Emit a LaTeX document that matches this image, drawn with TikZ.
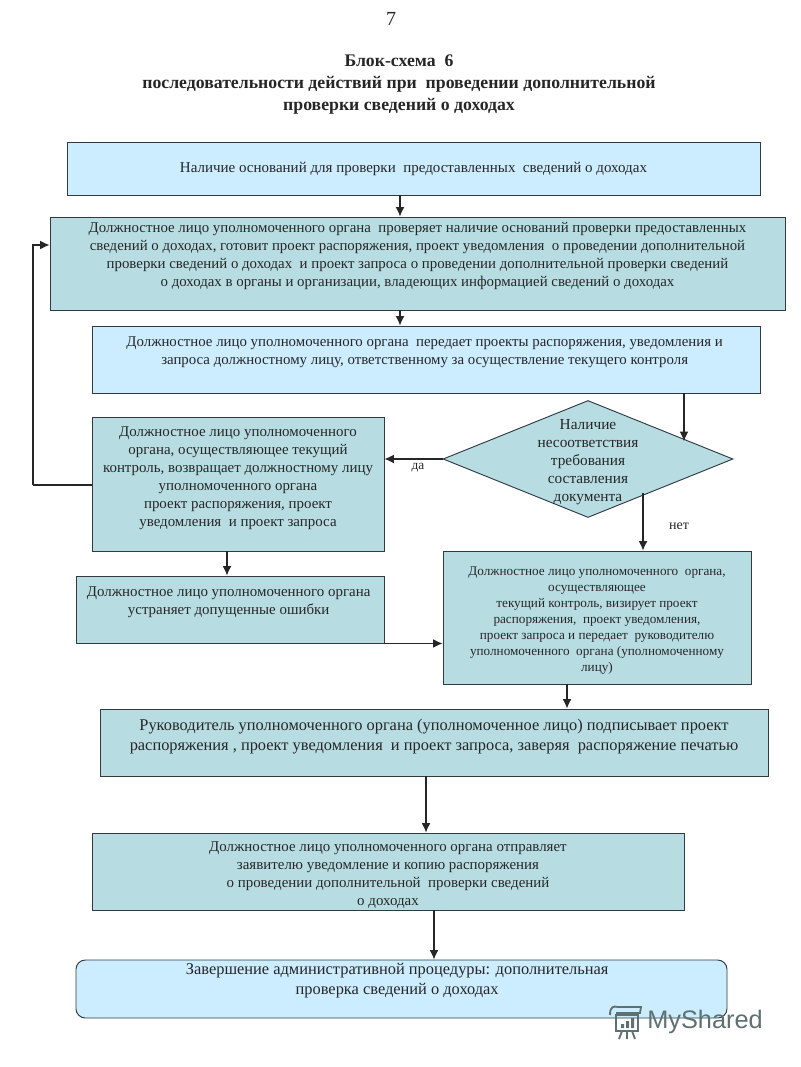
\documentclass[tikz,border=0pt]{standalone}
\usepackage{fontspec}
\setmainfont{Liberation Serif}
\setsansfont{Liberation Sans}
\usetikzlibrary{arrows.meta,shapes.geometric}
\definecolor{lightbox}{HTML}{CCECFF}
\definecolor{darkbox}{HTML}{B7DDE3}
\definecolor{edgegray}{HTML}{2F3B40}
\definecolor{markgray}{HTML}{5F7070}
\tikzset{
  sz/.style 2 args={minimum width=#1*0.75pt,minimum height=#2*0.75pt},
  txt/.style 2 args={align=center,inner sep=0pt,text=black!85,font=\fontsize{#1}{#2}\selectfont},
  lightnode/.style={draw=edgegray,fill=lightbox,line width=0.7pt},
  darknode/.style={draw=edgegray,fill=darkbox,line width=0.7pt},
  arrow/.style={draw=black!85,line width=0.8pt,-{Latex[length=7pt,width=6.5pt]}},
  plain/.style={draw=black!85,line width=0.8pt},
}
\begin{document}
\begin{tikzpicture}[x=0.75pt,y=-0.75pt]
\useasboundingbox (0,0) rectangle (800,1067);

\node[txt={15}{15}] (pagenum) at (391,19) {7};
\node[txt={13.3}{16.5}] (title) at (399,85) {\bfseries Блок-схема~ 6\\\bfseries последовательности действий при~ проведении дополнительной\\\bfseries проверки сведений о доходах};

\node[lightnode,sz={693}{53},txt={11.25}{13.5}] (found) at (413.5,168.5) {Наличие оснований для проверки~ предоставленных~ сведений о доходах};
\node[darknode,sz={735}{93},txt={11.15}{13.5}] (check) at (417.5,263.5) {Должностное лицо уполномоченного органа~ проверяет наличие оснований проверки предоставленных\\сведений о доходах, готовит проект распоряжения, проект уведомления~ о проведении дополнительной\\проверки сведений о доходах~ и проект запроса о проведении дополнительной проверки сведений\\о доходах в органы и организации, владеющих информацией сведений о доходах\\~};
\node[lightnode,sz={668}{67},txt={11.15}{13.5}] (pass) at (426,359.5) {\mbox{Должностное лицо уполномоченного органа~ передает проекты распоряжения, уведомления и\hspace{2pt}}\\\mbox{запроса должностному лицу, ответственному за осуществление текущего контроля\hspace{2pt}}\\~};
\node[darknode,shape=diamond,shape aspect=2.48,txt={11.5}{13.5},inner sep=-5.4pt,sz={290}{117}] (mismatch) at (588,459) {\rule{0pt}{12.2pt}Наличие\\несоответствия\\требования\\составления\\документа};
\node[darknode,sz={292}{134},txt={11.2}{13.5}] (back) at (238,484) {\rule{0pt}{9.8pt}Должностное лицо уполномоченного\\органа, осуществляющее текущий\\контроль, возвращает должностному лицу\\уполномоченного органа\\проект распоряжения, проект\\уведомления~ и проект запроса\\~};
\node[darknode,sz={308}{67},txt={11.2}{13.5}] (fix) at (230,609.5) {\mbox{Должностное лицо уполномоченного органа\hspace{2pt}}\\\mbox{устраняет допущенные ошибки\hspace{2pt}}\\~};
\node[darknode,sz={308}{133},txt={9.9}{12}] (visa) at (597,617.5) {\rule{0pt}{10.6pt}Должностное лицо уполномоченного~ органа,\\осуществляющее\\текущий контроль, визирует проект\\распоряжения,~ проект уведомления,\\проект запроса и передает~ руководителю\\уполномоченного~ органа (уполномоченному\\лицу)};
\node[darknode,sz={668}{67},txt={12.3}{15}] (sign) at (434,742.5) {\rule{0pt}{11.5pt}Руководитель уполномоченного органа (уполномоченное лицо) подписывает проект\\распоряжения , проект уведомления~ и проект запроса, заверяя~ распоряжение печатью\\~};
\node[darknode,sz={592}{77},txt={11.2}{13.5}] (send) at (388,871.5) {\rule{0pt}{13pt}Должностное лицо уполномоченного органа отправляет\\заявителю уведомление и копию распоряжения\\о проведении дополнительной~ проверки сведений\\о доходах};
\node[lightnode,rounded corners=7pt,sz={651}{58},txt={12.3}{15}] (finish) at (401.5,989) {\mbox{Завершение административной процедуры: дополнительная\hspace{6.5pt}}\\\mbox{проверка сведений о доходах\hspace{6.5pt}}\\~};

\node[txt={10}{12}] (yes) at (418,468) {да};
\node[txt={10.5}{12}] (no) at (679,526) {нет};

\coordinate (mne) at (684,441);
\coordinate (mse) at (643,493);
\coordinate (loop) at (33,485);

\path[arrow] (400,0 |- found.south) -- (400,0 |- check.north);
\path[arrow] (400,0 |- check.south) -- (400,0 |- pass.north);
\path[arrow] (mne |- pass.south) -- (mne);
\path[arrow] (mismatch.west) -- (mismatch.west -| back.east);
\path[plain] (back.west |- loop) -- (loop);
\path[arrow] (loop) -- (33,245) -- (33,245 -| check.west);
\path[arrow] (227,0 |- back.south) -- (227,0 |- fix.north);
\path[arrow] (fix.south east) -- (fix.south east -| visa.west);
\path[arrow] (mse) -- (mse |- visa.north);
\path[arrow] (567,0 |- visa.south) -- (567,0 |- sign.north);
\path[arrow] (426,0 |- sign.south) -- (426,0 |- send.north);
\path[arrow] (434,0 |- send.south) -- (434,0 |- finish.north);

\node[anchor=west,inner sep=0pt,text=markgray,font=\sffamily\fontsize{19}{19}\selectfont] (mark) at (647,1022) {MyShared};
\draw[markgray,line width=1.4pt] (616,1015) rectangle (638,1031);
\draw[markgray,line width=1.4pt] (610,1015) .. controls (610,1006) and (614,1006) .. (618,1007) -- (641,1007) -- (640,1013) -- (616,1013);
\draw[markgray,line width=1.4pt] (622,1031) -- (619,1039) (627,1031) -- (627,1039) (632,1031) -- (635,1039);
\fill[markgray] (621,1024) rectangle (624,1028) (626,1021) rectangle (629,1028) (631,1018) rectangle (634,1028);
\end{tikzpicture}
\end{document}
